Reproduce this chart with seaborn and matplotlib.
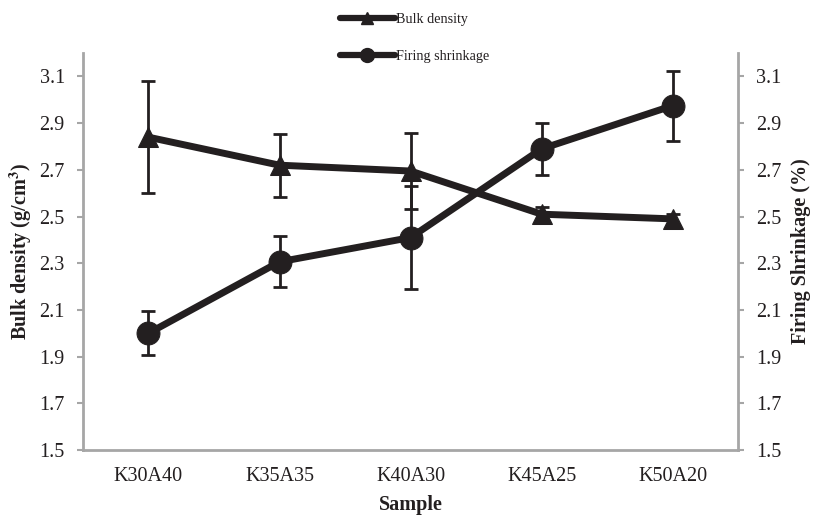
import numpy as np
import matplotlib.pyplot as plt
import pandas as pd
import seaborn as sns
from matplotlib.lines import Line2D

sns.set_theme(style="white")
plt.rcParams['font.family'] = ['Liberation Serif', 'DejaVu Serif']
plt.rcParams['mathtext.fontset'] = 'stix'

samples = ["K30A40", "K35A35", "K40A30", "K45A25", "K50A20"]
bulk_density = [2.84, 2.72, 2.695, 2.51, 2.49]
bulk_err = [0.24, 0.135, 0.163, 0.03, 0.02]
shrinkage = [2.0, 2.306, 2.41, 2.79, 2.975]
shrink_err = [0.095, 0.11, 0.22, 0.11, 0.15]

ink = "#231f20"
grey = "#a6a6a6"

df = pd.DataFrame({"pos": np.arange(len(samples)), "bulk": bulk_density, "shrink": shrinkage})

fig = plt.figure(figsize=(8.13, 5.16), dpi=100)
ax = fig.add_axes([0.102, 0.128, 0.806, 0.769])
ax2 = ax.twinx()

# bulk density, left axis
ax.errorbar(df["pos"], df["bulk"], yerr=bulk_err, fmt="none", ecolor=ink,
            elinewidth=2, capsize=4.7, capthick=2, zorder=2)
sns.lineplot(data=df, x="pos", y="bulk", ax=ax, color=ink, linewidth=5,
             marker="^", markersize=15, markeredgecolor=ink, zorder=3)

# firing shrinkage, right axis
ax2.errorbar(df["pos"], df["shrink"], yerr=shrink_err, fmt="none", ecolor=ink,
             elinewidth=2, capsize=4.7, capthick=2, zorder=2)
sns.lineplot(data=df, x="pos", y="shrink", ax=ax2, color=ink, linewidth=5,
             marker="o", markersize=16.5, markeredgecolor=ink, zorder=3)

yticks = [1.5, 1.7, 1.9, 2.1, 2.3, 2.5, 2.7, 2.9, 3.1]
for a in (ax, ax2):
    a.set_ylim(1.5, 3.2)
    a.set_xlim(-0.5, len(samples) - 0.5)
    a.set_yticks(yticks)
    a.set_yticklabels([f"{v:.1f}" for v in yticks])
    a.spines["top"].set_visible(False)
    for s in ("left", "right", "bottom"):
        a.spines[s].set_color(grey)
        a.spines[s].set_linewidth(2)
    a.tick_params(axis="y", colors=grey, length=4, width=1.5, labelcolor=ink,
                  labelsize=14.5, pad=9, direction="out")

ax.spines["right"].set_visible(False)
ax2.spines["left"].set_visible(False)
ax2.spines["bottom"].set_visible(False)

ax.set_xticks(np.arange(-0.5, len(samples), 1.0))
ax.set_xticklabels([])
ax.set_xticks(np.arange(len(samples)), minor=True)
ax.set_xticklabels(samples, minor=True)
ax.tick_params(axis="x", which="major", colors=grey, length=5, width=1.5, direction="out")
ax.tick_params(axis="x", which="minor", length=0, labelsize=14.5, labelcolor=ink, pad=12)

ax.set_xlabel("Sample", fontsize=14.5, fontweight="bold", color=ink)
ax.set_ylabel("Bulk density (g/cm$^\\mathbf{3}$)", fontsize=14.5, fontweight="bold", color=ink)
ax2.set_ylabel("Firing Shrinkage (%)", fontsize=14.5, fontweight="bold", color=ink)
ax.xaxis.set_label_coords(0.5, -0.113)
ax.yaxis.set_label_coords(-0.075, 0.5)
ax2.yaxis.set_label_coords(1.081, 0.5)

handles = [Line2D([], [], color=ink, linewidth=4.5, marker="^", markersize=8),
           Line2D([], [], color=ink, linewidth=4.5, marker="o", markersize=10)]
fig.legend(handles, ["Bulk density", "Firing shrinkage"], loc="upper left",
           bbox_to_anchor=(0.402, 1.0), frameon=False, fontsize=10.2,
           handlelength=3.9, handletextpad=0.1, labelspacing=1.7, labelcolor=ink)

fig.savefig("out.png", dpi=100)
